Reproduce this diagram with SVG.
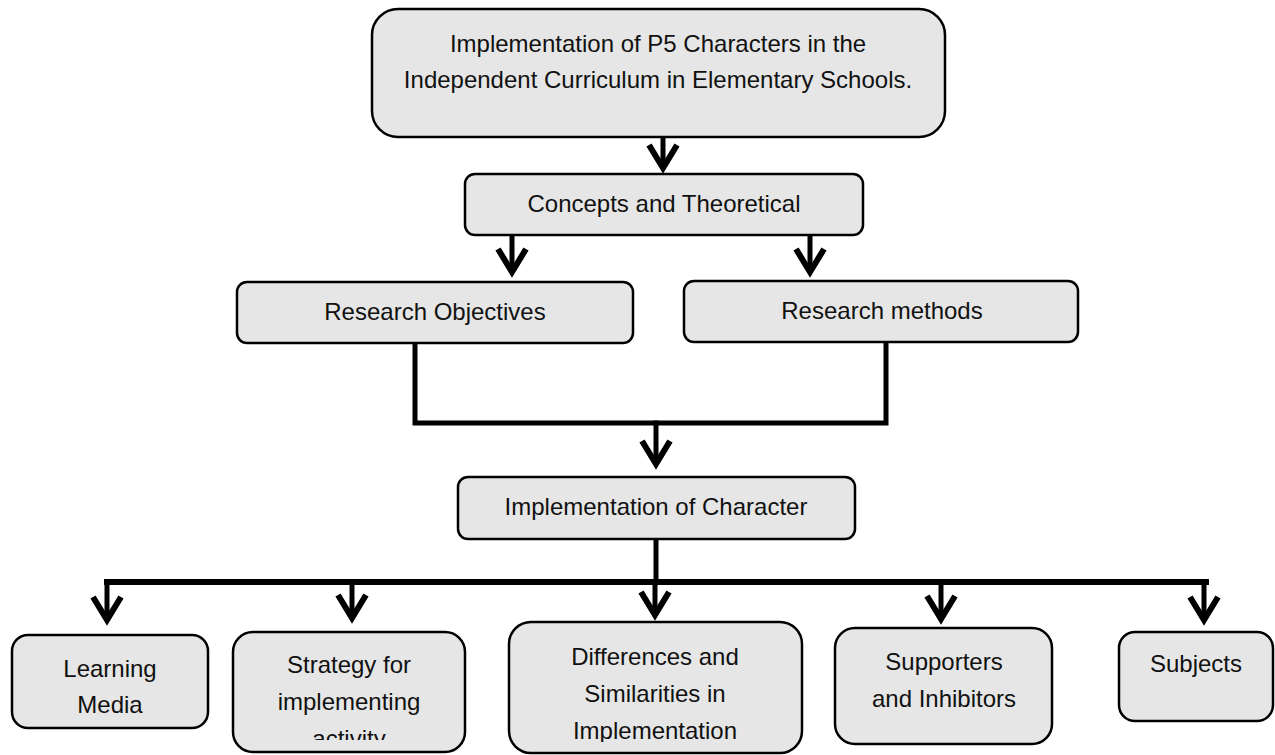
<svg xmlns="http://www.w3.org/2000/svg" width="1275" height="755" viewBox="0 0 1275 755">
<style>
.box{fill:#e6e6e6;stroke:#000;stroke-width:2.5}
.t{font-family:"Liberation Sans",Arial,sans-serif;font-size:24px;fill:#111;text-anchor:middle}
.ln{fill:none;stroke:#000;stroke-width:5;stroke-linecap:square;stroke-linejoin:miter}
.hd{fill:none;stroke:#000;stroke-width:6;stroke-linejoin:miter;stroke-miterlimit:10}
</style>
<defs>
<path id="head" class="hd" d="M-14,-26 L0,-3 L14,-26"/>
<clipPath id="clipStrat"><rect x="233" y="632" width="232" height="108"/></clipPath>
<clipPath id="clipDiff"><rect x="508" y="622" width="294" height="120"/></clipPath>
</defs>
<rect width="1275" height="755" fill="#fff"/>

<g id="connectors">
<path class="ln" d="M663,137 V164"/>
<use href="#head" x="663" y="171"/>
<path class="ln" d="M512,235 V268"/>
<use href="#head" x="512" y="275"/>
<path class="ln" d="M810,235 V268"/>
<use href="#head" x="810" y="275"/>
<path class="ln" d="M415,343 V423 H886 V342"/>
<path class="ln" d="M656,423 V460"/>
<use href="#head" x="656" y="467"/>
<path class="ln" d="M656,539 V582"/>
<path class="ln" style="stroke-width:6" d="M107,582 H1206"/>
<path class="ln" d="M107,582 V616"/>
<use href="#head" x="107" y="623"/>
<path class="ln" d="M352,582 V614"/>
<use href="#head" x="352" y="621"/>
<path class="ln" d="M655,582 V611"/>
<use href="#head" x="655" y="618"/>
<path class="ln" d="M941,582 V615"/>
<use href="#head" x="941" y="622"/>
<path class="ln" d="M1204,582 V616"/>
<use href="#head" x="1204" y="623"/>
</g>

<g id="node-top">
<rect class="box" x="372" y="9" width="573" height="128" rx="26"/>
<text class="t" x="658" y="52">Implementation of P5 Characters in the</text>
<text class="t" x="658" y="88">Independent Curriculum in Elementary Schools.</text>
</g>

<g id="node-concepts">
<rect class="box" x="465" y="174" width="398" height="61" rx="10"/>
<text class="t" x="664" y="212">Concepts and Theoretical</text>
</g>

<g id="node-objectives">
<rect class="box" x="237" y="282" width="396" height="61" rx="10"/>
<text class="t" x="435" y="320">Research Objectives</text>
</g>

<g id="node-methods">
<rect class="box" x="684" y="281" width="394" height="61" rx="10"/>
<text class="t" x="882" y="319">Research methods</text>
</g>

<g id="node-implementation">
<rect class="box" x="458" y="477" width="397" height="62" rx="10"/>
<text class="t" x="656" y="515">Implementation of Character</text>
</g>

<g id="node-media">
<rect class="box" x="12" y="635" width="196" height="93" rx="16"/>
<text class="t" x="110" y="677">Learning</text>
<text class="t" x="110" y="713">Media</text>
</g>

<g id="node-strategy">
<rect class="box" x="233" y="632" width="232" height="120" rx="20"/>
<g clip-path="url(#clipStrat)">
<text class="t" x="349" y="673">Strategy for</text>
<text class="t" x="349" y="710">implementing</text>
<text class="t" x="349" y="747">activity</text>
</g>
</g>

<g id="node-differences">
<rect class="box" x="509" y="622" width="293" height="131" rx="22"/>
<g clip-path="url(#clipDiff)">
<text class="t" x="655" y="665">Differences and</text>
<text class="t" x="655" y="702">Similarities in</text>
<text class="t" x="655" y="739">Implementation</text>
</g>
</g>

<g id="node-supporters">
<rect class="box" x="835" y="628" width="217" height="116" rx="20"/>
<text class="t" x="944" y="670">Supporters</text>
<text class="t" x="944" y="707">and Inhibitors</text>
</g>

<g id="node-subjects">
<rect class="box" x="1119" y="632" width="154" height="89" rx="16"/>
<text class="t" x="1196" y="672">Subjects</text>
</g>
</svg>
